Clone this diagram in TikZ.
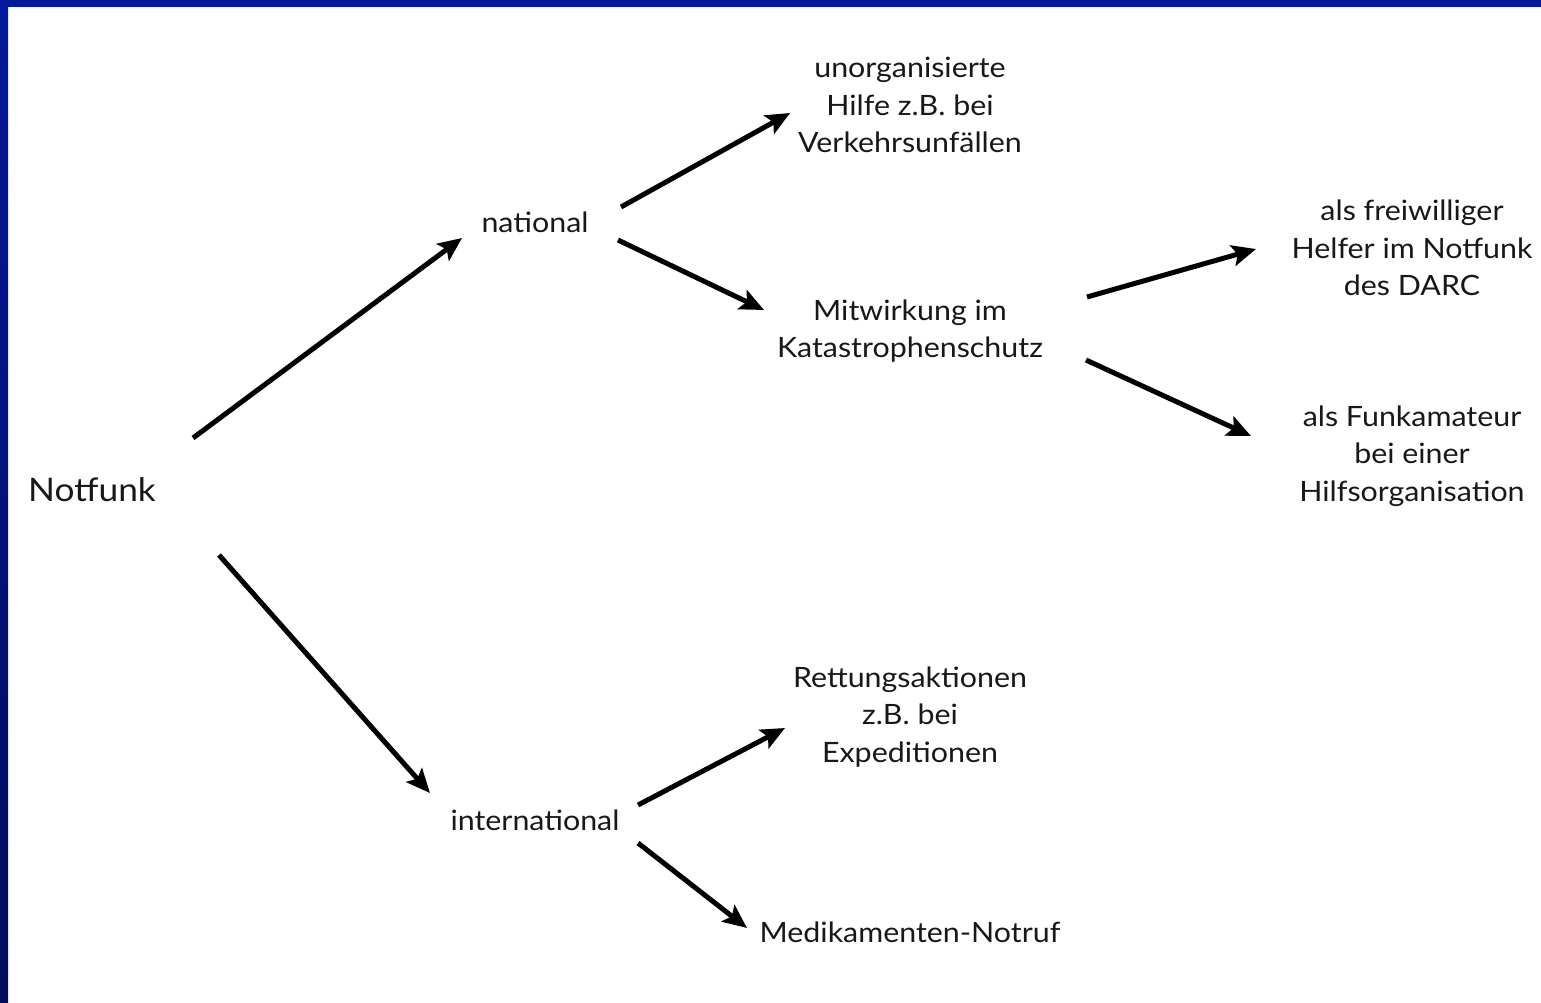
\documentclass[tikz,border=0pt]{standalone}
\usepackage{fontspec}
\setmainfont[FakeStretch=1.085]{Lato}
\usetikzlibrary{arrows.meta}
\definecolor{bordblue}{HTML}{04199A}
\definecolor{bordnavy}{HTML}{010C5A}
\definecolor{txt}{HTML}{181818}
\begin{document}
\begin{tikzpicture}[x=1pt,y=-1pt,
  lbl/.style={align=center,text=txt,inner sep=0pt,font=\fontsize{28}{37.5}\selectfont},
  big/.style={text=txt,inner sep=0pt,font=\fontsize{32.5}{40}\selectfont},
  arr/.style={line width=5pt,draw=black,-{Stealth[length=24pt,width=21pt,inset=5pt]}}]
\useasboundingbox (0,0) rectangle (1541,1002);
\fill[white] (0,0) rectangle (1541,1002);
\shade[top color=bordblue,bottom color=bordnavy] (0,0) rectangle (8,1002);
\fill[bordblue] (0,0) rectangle (1541,7);
\node[big] (nf) at (92,490) {Notfunk};
\node[lbl] (nat) at (535,222) {national};
\node[lbl] (intl) at (535,820) {international};
\node[lbl] (un) at (910,105) {unorganisierte\\Hilfe z.B. bei\\Verkehrsunfällen};
\node[lbl] (mit) at (910,331) {Mitwirkung im\\Katastrophenschutz};
\node[lbl] (fr) at (1412,248) {als freiwilliger\\Helfer im Notfunk\\des DARC};
\node[lbl] (fa) at (1412,456) {als Funkamateur\\bei einer\\Hilfsorganisation};
\node[lbl] (re) at (910,717) {Rettungsaktionen\\z.B. bei\\Expeditionen};
\node[lbl] (me) at (910,932) {Medikamenten-Notruf};
\draw[arr] ([shift={(101,-52)}]nf.center) -- ([shift={(-73,16)}]nat.center);
\draw[arr] ([shift={(127,65)}]nf.center) -- ([shift={(-105,-27)}]intl.center);
\draw[arr] ([shift={(86,-15)}]nat.center) -- ([shift={(-120,8)}]un.center);
\draw[arr] ([shift={(83,18)}]nat.center) -- ([shift={(-146,-21)}]mit.center);
\draw[arr] ([shift={(177,-34)}]mit.center) -- ([shift={(-156,1)}]fr.center);
\draw[arr] ([shift={(176,29)}]mit.center) -- ([shift={(-161,-20)}]fa.center);
\draw[arr] ([shift={(103,-15)}]intl.center) -- ([shift={(-125,11)}]re.center);
\draw[arr] ([shift={(103,23)}]intl.center) -- ([shift={(-163,-4)}]me.center);
\end{tikzpicture}
\end{document}
